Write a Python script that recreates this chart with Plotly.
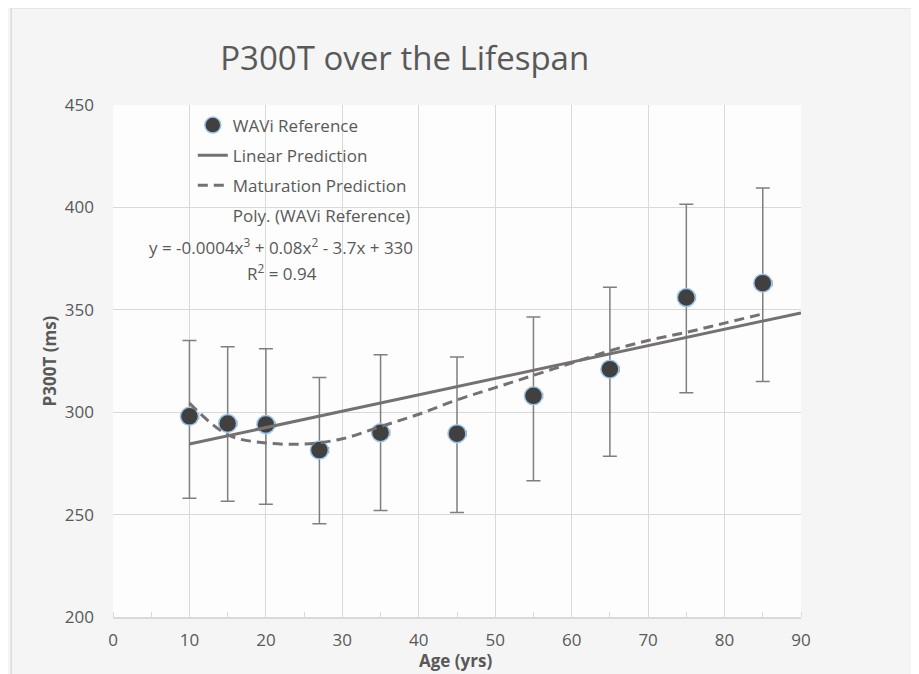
import plotly.graph_objects as go

# ---- data ----
ages = [10, 15, 20, 27, 35, 45, 55, 65, 75, 85]
p300t = [298, 294.5, 294, 281.5, 290, 289.5, 308, 321, 356, 363]
err_plus = [37, 37.5, 37, 35.5, 38, 37.5, 38.5, 40, 45.5, 46.5]
err_minus = [40, 38, 39, 36, 38, 38.5, 41.5, 42.5, 46.5, 48]
err_x = [1.2] * 10

linear_x = [10, 90]
linear_y = [284.5, 348.5]

mat_x = [10, 15, 20, 25, 30, 35, 40, 45, 50, 55, 60, 65, 70, 75, 80, 85]
mat_y = [304.5, 289, 285, 284.5, 287, 293, 299, 306, 312, 318, 324, 330, 335, 339, 343.5, 348]

x_ticks = [0, 10, 20, 30, 40, 50, 60, 70, 80, 90]
y_ticks = [200, 250, 300, 350, 400, 450]

title = "P300T over the Lifespan"
x_title = "Age (yrs)"
y_title = "P300T (ms)"
eq_text = "y = -0.0004x<sup>3</sup> + 0.08x<sup>2</sup> - 3.7x + 330"
r2_text = "R<sup>2</sup> = 0.94"

GREY = "#595959"
LINE = "#767171"
FONT = "Open Sans"

fig = go.Figure()

fig.add_trace(go.Scatter(
    x=ages, y=p300t, mode="markers", name="WAVi Reference", legendgroup="a",
    marker=dict(size=18, color="#404040", line=dict(color="#9dc3e6", width=1.5)),
    error_y=dict(type="data", array=err_plus, arrayminus=err_minus, symmetric=False,
                 color="#7f7f7f", thickness=1.5, width=7),
    error_x=dict(type="data", array=err_x, arrayminus=[0] * 10, symmetric=False,
                 color="#7f7f7f", thickness=1.2, width=3),
))
fig.add_trace(go.Scatter(
    x=linear_x, y=linear_y, mode="lines", name="Linear Prediction", legendgroup="b",
    line=dict(color=LINE, width=3),
))
fig.add_trace(go.Scatter(
    x=mat_x, y=mat_y, mode="lines", name="Maturation Prediction", legendgroup="c",
    line=dict(color=LINE, width=3, dash="10px,6px", shape="spline"),
))
fig.add_trace(go.Scatter(
    x=[None], y=[None], mode="lines", name="Poly. (WAVi Reference)", legendgroup="d",
    line=dict(color="rgba(0,0,0,0)", width=0),
))

fig.add_annotation(x=0.244, y=0.7246, xref="paper", yref="paper", text=eq_text,
                   showarrow=False, xanchor="center", yanchor="middle",
                   font=dict(family=FONT, size=17, color=GREY))
fig.add_annotation(x=0.2456, y=0.672, xref="paper", yref="paper", text=r2_text,
                   showarrow=False, xanchor="center", yanchor="middle",
                   font=dict(family=FONT, size=17, color=GREY))
fig.add_annotation(x=0.498, y=-0.084, xref="paper", yref="paper", text="<b>" + x_title + "</b>",
                   showarrow=False, xanchor="center", yanchor="middle",
                   font=dict(family=FONT, size=17, color=GREY))

# chart area border
fig.add_shape(type="rect", xref="paper", yref="paper", x0=-0.148, x1=2, y0=-1, y1=1.19,
              line=dict(color="#d9d9d9", width=1.5), fillcolor="rgba(0,0,0,0)", layer="below")

fig.update_layout(
    width=911, height=666,
    margin=dict(l=105, r=118, t=97, b=57),
    paper_bgcolor="#f5f5f5",
    plot_bgcolor="#fdfdfd",
    title=dict(text=title, x=0.424, xref="paper", xanchor="center", y=0.925, yanchor="middle",
               font=dict(family=FONT, size=33, color=GREY)),
    font=dict(family=FONT, color=GREY),
    showlegend=True,
    legend=dict(x=0.116, y=0.995, xanchor="left", yanchor="top", bgcolor="rgba(0,0,0,0)",
                font=dict(family=FONT, size=17, color=GREY), tracegroupgap=5,
                traceorder="grouped"),
    xaxis=dict(range=[0, 90], tickvals=x_ticks, showgrid=True, gridcolor="#d9d9d9",
               gridwidth=1, zeroline=False, showline=True, linecolor="#d9d9d9", linewidth=1.5,
               ticks="", ticklabelstandoff=7, tickfont=dict(family=FONT, size=17, color=GREY),
               minor=dict(dtick=5, tick0=5, ticks="inside", ticklen=5, tickcolor="#d9d9d9",
                          showgrid=False)),
    yaxis=dict(range=[200, 450], tickvals=y_ticks, showgrid=True, gridcolor="#d9d9d9",
               gridwidth=1, zeroline=False, showline=False, ticks="",
               ticklabelstandoff=18, tickfont=dict(family=FONT, size=17, color=GREY),
               title=dict(text="<b>" + y_title + "</b>", standoff=3,
                          font=dict(family=FONT, size=17, color=GREY))),
)

fig.write_html("out.html")
